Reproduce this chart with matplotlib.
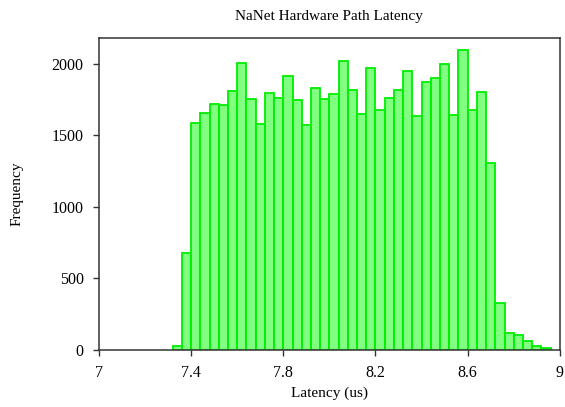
import numpy as np
import matplotlib
matplotlib.use('Agg')
import matplotlib.pyplot as plt

plt.rcParams['font.family'] = ['Liberation Serif', 'DejaVu Serif']

# ── Histogram data (bin width 0.04 us) ────────────────────────────────────────
bin_width = 0.04
bin_left = 7.32 + bin_width * np.arange(41)
counts = [30, 680, 1590, 1655, 1718, 1711, 1809, 2005, 1753, 1583,
          1795, 1760, 1914, 1746, 1576, 1830, 1753, 1788, 2019, 1820,
          1648, 1970, 1678, 1760, 1816, 1947, 1639, 1874, 1902, 2000,
          1646, 2098, 1676, 1802, 1310, 329, 116, 103, 61, 30, 12]

x_ticks = [7, 7.4, 7.8, 8.2, 8.6, 9]
x_ticklabels = ['7', '7.4', '7.8', '8.2', '8.6', '9']
y_ticks = [0, 500, 1000, 1500, 2000]

fig = plt.figure(figsize=(5.65, 4.07), dpi=100)
ax = fig.add_axes([0.175, 0.14, 0.816, 0.767])

ax.bar(bin_left, counts, width=bin_width, align='edge',
       facecolor='#80ff80', edgecolor='#00ee00', linewidth=1.3)

ax.set_xlim(7, 9)
ax.set_ylim(0, 2182)
ax.set_xticks(x_ticks)
ax.set_xticklabels(x_ticklabels)
ax.set_yticks(y_ticks)
ax.tick_params(direction='out', length=4, width=1, labelsize=11.5,
               color='#333333', pad=7)
for sp in ax.spines.values():
    sp.set_color('#333333')
    sp.set_linewidth(1.1)

ax.set_title('NaNet Hardware Path Latency', fontsize=11, pad=13)
ax.set_xlabel('Latency (us)', fontsize=11, labelpad=4)
ax.set_ylabel('Frequency', fontsize=11, labelpad=20)

fig.savefig('out.png', dpi=100)
